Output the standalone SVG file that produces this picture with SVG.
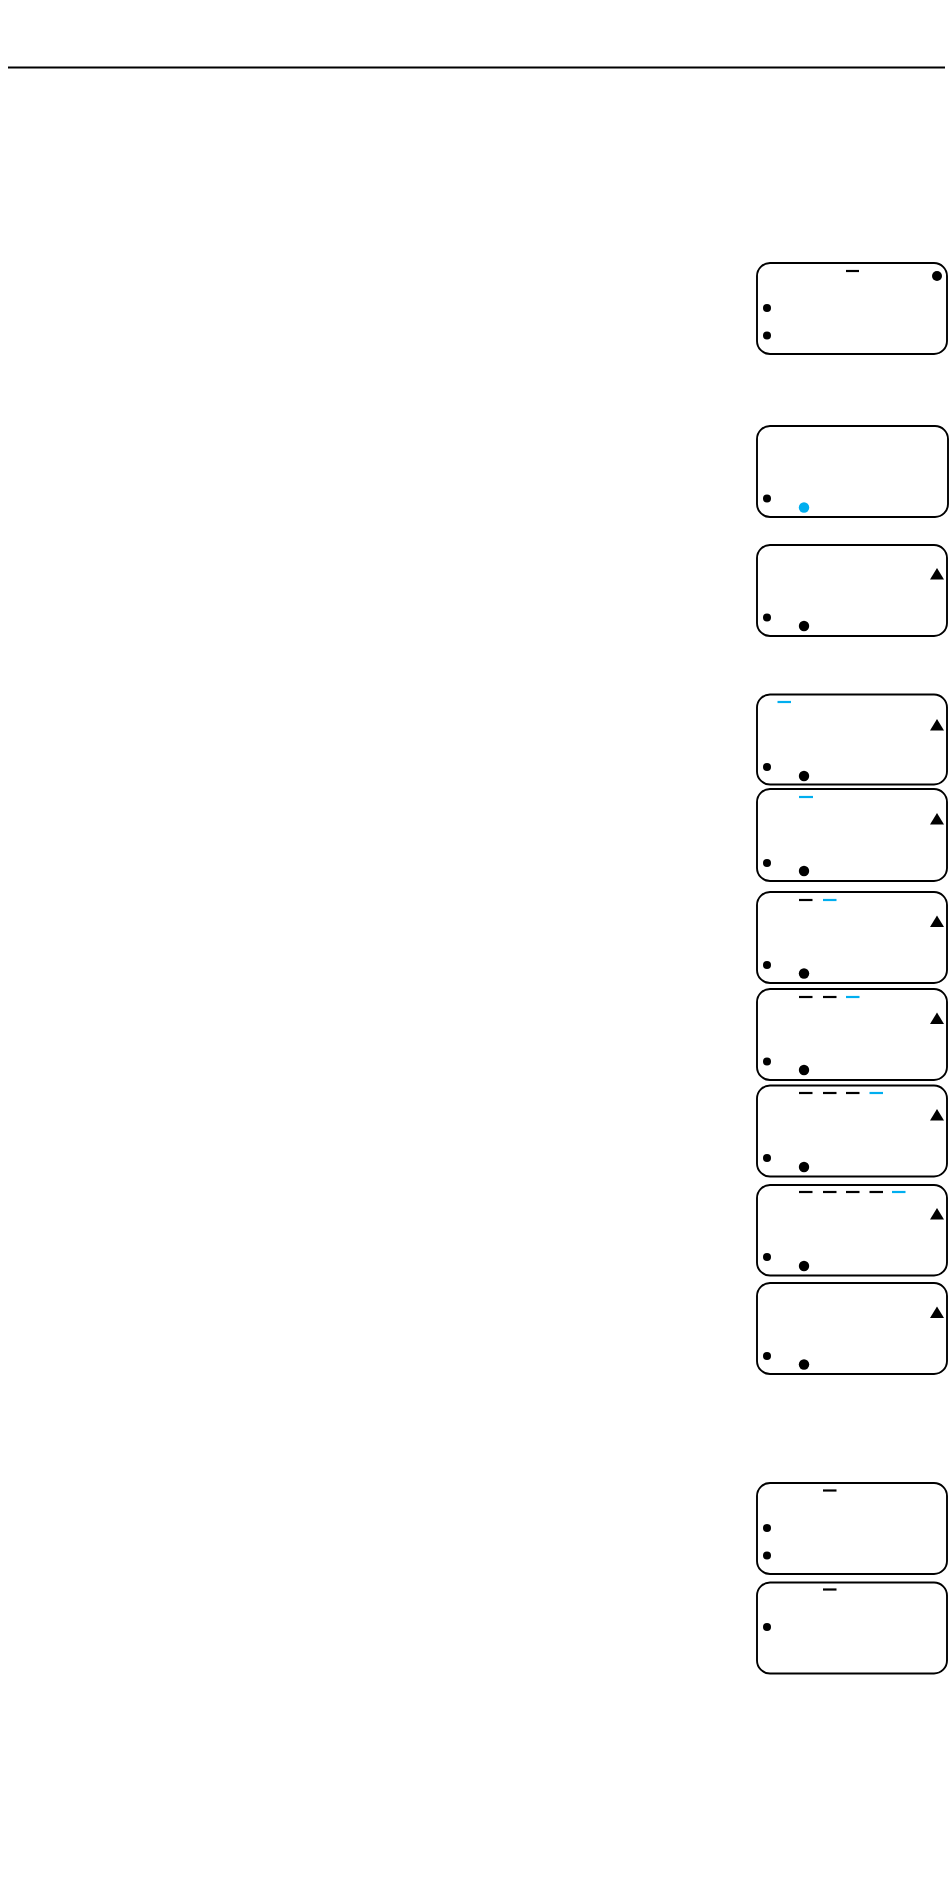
<svg xmlns="http://www.w3.org/2000/svg" width="950" height="1886" viewBox="0 0 950 1886">
<style>
.box{fill:#fff;stroke:#000;stroke-width:1.9}
.k{fill:#000}
.b{fill:#00AEEF}
.dk{stroke:#000;stroke-width:2.2}
.db{stroke:#00AEEF;stroke-width:2.2}
</style>
<defs>
<path id="tri" d="M0,-6 L7,5.5 L-7,5.5 Z"/>
</defs>
<rect width="950" height="1886" fill="#fff"/>
<line x1="8" y1="67.5" x2="945" y2="67.5" stroke="#000" stroke-width="2.2"/>

<g id="d1"><rect class="box" x="757" y="263" width="190" height="91" rx="13"/>
<line class="dk" x1="846" y1="271" x2="859" y2="271"/>
<circle class="k" cx="937" cy="276" r="5"/>
<circle class="k" cx="767" cy="308" r="4"/>
<circle class="k" cx="767" cy="335.5" r="4"/></g>

<g id="d2"><rect class="box" x="757" y="426" width="191" height="91" rx="13"/>
<circle class="k" cx="767" cy="498.5" r="4"/>
<circle class="b" cx="804" cy="507.5" r="5.2"/></g>

<g id="d3"><rect class="box" x="757" y="545" width="190" height="91" rx="13"/>
<use href="#tri" x="937" y="574"/>
<circle class="k" cx="767" cy="617.5" r="4"/>
<circle class="k" cx="804" cy="626" r="5.2"/></g>

<g id="d4"><rect class="box" x="757" y="694.5" width="190" height="90" rx="13"/>
<line class="db" x1="777.5" y1="702" x2="791" y2="702"/>
<use href="#tri" x="937" y="725"/>
<circle class="k" cx="767" cy="767" r="4"/>
<circle class="k" cx="804" cy="776" r="5.2"/></g>

<g id="d5"><rect class="box" x="757" y="789" width="190" height="92" rx="13"/>
<line class="db" x1="799" y1="797" x2="813" y2="797" stroke-width="2.8"/>
<use href="#tri" x="937" y="819"/>
<circle class="k" cx="767" cy="863" r="4"/>
<circle class="k" cx="804" cy="871" r="5.2"/></g>

<g id="d6"><rect class="box" x="757" y="892" width="190" height="91" rx="13"/>
<line class="dk" x1="799" y1="900" x2="812.5" y2="900"/>
<line class="db" x1="823" y1="900" x2="836.5" y2="900"/>
<use href="#tri" x="937" y="921.5"/>
<circle class="k" cx="767" cy="965" r="4"/>
<circle class="k" cx="804" cy="973.5" r="5.2"/></g>

<g id="d7"><rect class="box" x="757" y="989" width="190" height="91" rx="13"/>
<line class="dk" x1="799" y1="997" x2="812.5" y2="997"/>
<line class="dk" x1="823" y1="997" x2="836.5" y2="997"/>
<line class="db" x1="846" y1="997" x2="859.5" y2="997"/>
<use href="#tri" x="937" y="1018.5"/>
<circle class="k" cx="767" cy="1061.5" r="4"/>
<circle class="k" cx="804" cy="1070" r="5.2"/></g>

<g id="d8"><rect class="box" x="757" y="1085.5" width="190" height="91" rx="13"/>
<line class="dk" x1="799" y1="1093" x2="812.5" y2="1093"/>
<line class="dk" x1="823" y1="1093" x2="836.5" y2="1093"/>
<line class="dk" x1="846" y1="1093" x2="859.5" y2="1093"/>
<line class="db" x1="869.5" y1="1093" x2="883" y2="1093"/>
<use href="#tri" x="937" y="1115"/>
<circle class="k" cx="767" cy="1158" r="4"/>
<circle class="k" cx="804" cy="1167" r="5.2"/></g>

<g id="d9"><rect class="box" x="757" y="1185" width="190" height="90.5" rx="13"/>
<line class="dk" x1="799" y1="1192" x2="812.5" y2="1192"/>
<line class="dk" x1="823" y1="1192" x2="836.5" y2="1192"/>
<line class="dk" x1="846" y1="1192" x2="859.5" y2="1192"/>
<line class="dk" x1="869.5" y1="1192" x2="883" y2="1192"/>
<line class="db" x1="892" y1="1192" x2="905.5" y2="1192"/>
<use href="#tri" x="937" y="1214"/>
<circle class="k" cx="767" cy="1257" r="4"/>
<circle class="k" cx="804" cy="1266" r="5.2"/></g>

<g id="d10"><rect class="box" x="757" y="1283" width="190" height="91" rx="13"/>
<use href="#tri" x="937" y="1312.5"/>
<circle class="k" cx="767" cy="1356" r="4"/>
<circle class="k" cx="804" cy="1364.5" r="5.2"/></g>

<g id="d11"><rect class="box" x="757" y="1483" width="190" height="91" rx="13"/>
<line class="dk" x1="823" y1="1490.5" x2="836.5" y2="1490.5"/>
<circle class="k" cx="767" cy="1528" r="4"/>
<circle class="k" cx="767" cy="1555.5" r="4"/></g>

<g id="d12"><rect class="box" x="757" y="1582.5" width="190" height="91" rx="13"/>
<line class="dk" x1="823" y1="1589.5" x2="836.5" y2="1589.5"/>
<circle class="k" cx="767" cy="1627" r="4"/></g>
</svg>
